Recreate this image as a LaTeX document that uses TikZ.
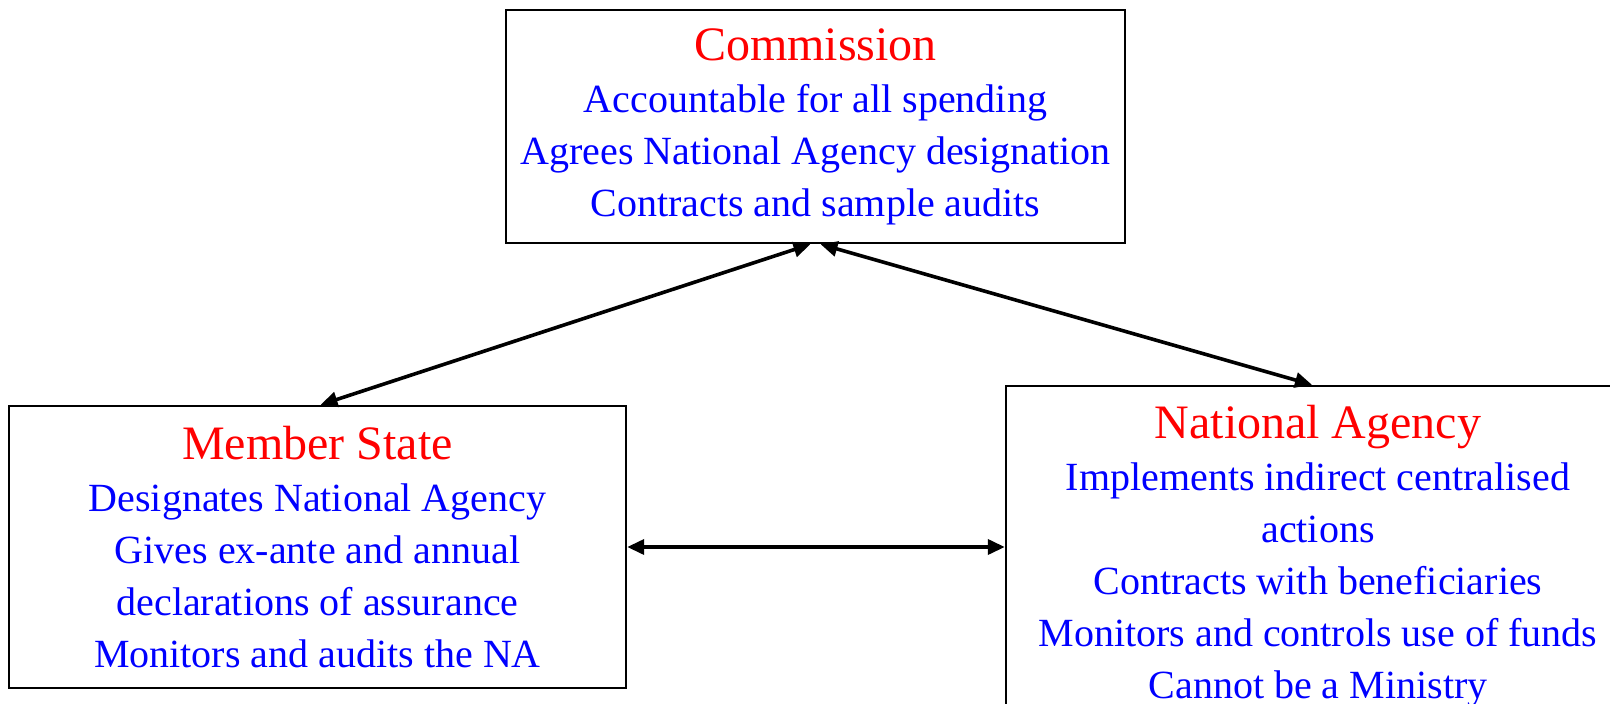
\documentclass[tikz,border=0pt]{standalone}
\usepackage{fontspec}
\setmainfont{Liberation Serif}
\usetikzlibrary{arrows.meta,calc}
\newcommand{\ttlline}[1]{{\fontsize{48}{52}\selectfont\color{red}#1}}
\begin{document}
\begin{tikzpicture}[x=1pt,y=-1pt,
  box/.style={draw=black,line width=2.4pt,align=center,inner sep=0pt,
    font=\fontsize{40}{52}\selectfont,text=blue},
  link/.style={line width=3.6pt,
    {Triangle[length=17pt,width=15pt]}-{Triangle[length=17pt,width=15pt]}}]
\useasboundingbox (0,0) rectangle (1610,704);
\clip (0,0) rectangle (1610,704);

\node[box,minimum width=619pt,minimum height=233pt] (comm) at (815.5,126.5)
  {\ttlline{Commission}\\
   Accountable for all spending\\
   Agrees National Agency designation\\
   Contracts and sample audits};

\node[box,minimum width=617pt,minimum height=282pt] (ms) at (317.5,547)
  {\ttlline{Member State}\\
   Designates National Agency\\
   Gives ex-ante and annual\\
   declarations of assurance\\
   Monitors and audits the NA};

\node[box,minimum width=624pt,minimum height=340pt] (na) at (1318,556)
  {\ttlline{National Agency}\\
   Implements indirect centralised\\
   actions\\
   Contracts with beneficiaries\\
   Monitors and controls use of funds\\
   Cannot be a Ministry};

\draw[link] ($(comm.south)+(-5,0)$) -- ($(ms.north)+(3,0)$);
\draw[link] ($(comm.south)+(5,0)$) -- ($(na.north)+(-6,0)$);
\draw[link] (ms.east) -- (ms.east -| na.west);
\end{tikzpicture}
\end{document}
